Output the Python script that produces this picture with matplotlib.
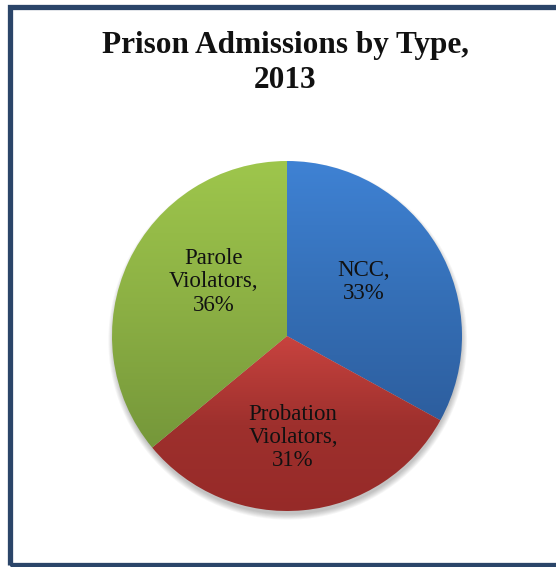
import numpy as np
import matplotlib
matplotlib.use("Agg")
import matplotlib.pyplot as plt
from matplotlib.colors import LinearSegmentedColormap
from matplotlib.patches import Rectangle, Circle

title = "Prison Admissions by Type,\n2013"
categories = ["NCC", "Probation\nViolators", "Parole\nViolators"]
shares = [33, 31, 36]

# gradient stops (top -> bottom) for each slice
grad_colors = [
    ["#3f82d4", "#3570b8", "#2d5e9e"],
    ["#c8433f", "#9e302d", "#962a28"],
    ["#9ec64c", "#8cb044", "#75973a"],
]
# label anchors, in axes data units (pie radius = 1)
label_pos = [(0.44, 0.31), (0.035, -0.58), (-0.42, 0.31)]

W, H = 556, 567
fig = plt.figure(figsize=(W / 100, H / 100), dpi=100)

# dark frame round the chart area
fig.patches.append(Rectangle((9.5 / W, 2.5 / H), 1.2, 1 - 9 / H, transform=fig.transFigure,
                             fill=False, edgecolor="#2b4569", linewidth=3.8, clip_on=False))

fig.text(0.513, 1 - 63 / H, title, ha="center", va="center", fontsize=22.5, fontweight="bold",
         family="Liberation Serif", linespacing=1.3, color="#111111")

cx, cy, r = 287, 336, 175
ax = fig.add_axes([(cx - r) / W, (H - cy - r) / H, 2 * r / W, 2 * r / H])

# soft shadow under the pie
for i in range(7):
    ax.add_patch(Circle((0.004, -0.025), 0.995 + i * 0.005, facecolor="#000000",
                        alpha=0.035, edgecolor="none", zorder=0, clip_on=False))

wedges, _ = ax.pie(shares, startangle=90, counterclock=False, radius=1,
                   colors=["none"] * 3, wedgeprops=dict(linewidth=0))

for w, cols in zip(wedges, grad_colors):
    path = w.get_path().transformed(w.get_patch_transform())
    verts = path.vertices
    x0, x1 = verts[:, 0].min(), verts[:, 0].max()
    y0, y1 = verts[:, 1].min(), verts[:, 1].max()
    cmap = LinearSegmentedColormap.from_list("g", cols)
    grad = np.linspace(0, 1, 256).reshape(-1, 1)
    im = ax.imshow(grad, cmap=cmap, extent=[x0, x1, y0, y1], origin="upper", aspect="auto",
                   interpolation="bilinear", zorder=2)
    im.set_clip_path(w)

for (lx, ly), name, val in zip(label_pos, categories, shares):
    ax.text(lx, ly, f"{name},\n{val}%", ha="center", va="center", fontsize=16.5,
            family="Liberation Serif", linespacing=1.15, color="#111111", zorder=5)

ax.set_xlim(-1, 1)
ax.set_ylim(-1, 1)
ax.set_aspect("auto")
ax.axis("off")

fig.savefig("out.png", dpi=100)
